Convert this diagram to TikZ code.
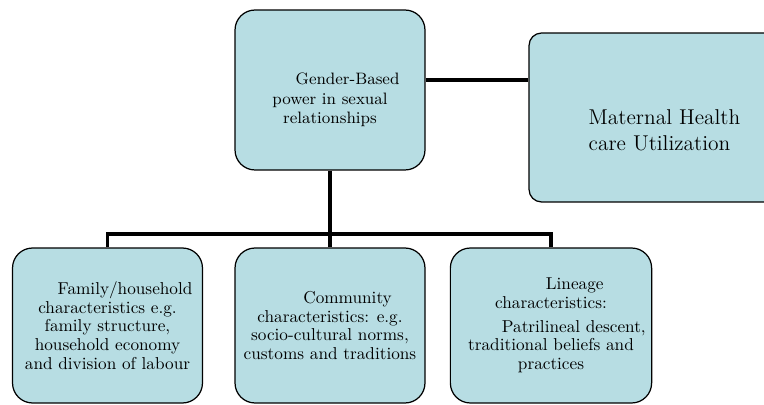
\documentclass[tikz,border=0pt]{standalone}
\definecolor{boxfill}{RGB}{183,221,227}

\begin{document}
\begin{tikzpicture}[x=0.02cm, y=-0.02cm,
        box/.style={draw=black, fill=boxfill, line width=0.7pt, rounded corners=0.4cm,
            minimum width=3.8cm, minimum height=3.1cm, align=center,
            font=\fontsize{9.8}{10.6}\selectfont},
        conn/.style={line width=2pt}]
        \useasboundingbox (0,0) rectangle (764,405);
        \clip (0,0) rectangle (764,405);

        \node[box, minimum height=3.2cm, font=\fontsize{9.4}{11.2}\selectfont] (gender) at (330,90)
            {\rule{0pt}{18pt}\hspace*{20pt}Gender-Based\\power in sexual\\relationships};
        \node[box, rounded corners=0.25cm, minimum width=5.42cm, minimum height=3.38cm, align=left,
            font=\fontsize{12.2}{15}\selectfont] (maternal) at (664.5,117.5)
            {\rule{0pt}{23pt}Maternal Health\\care Utilization};

        \node[box] (family) at (107.5,325.5)
            {\hspace*{20pt}Family/household\\characteristics e.g.\\family structure,\\household economy\\and division of labour};
        \node[box] (community) at (330,325.5)
            {\hspace*{20pt}Community\\characteristics: e.g.\\socio-cultural norms,\\customs and traditions};
        \node[box] (lineage) at (551,325.5)
            {\hspace*{27pt}Lineage\\characteristics:\hspace*{30pt}\\[3pt]\hspace*{26pt}Patrilineal descent,\\traditional beliefs and\\practices};

        \coordinate (bar) at (330,234);

        \draw[conn] ([yshift=0.2cm]gender.east) -- ([yshift=0.2cm]gender.east -| maternal.west);
        \draw[conn] (gender.south) -- (bar);
        \foreach \b in {family, community, lineage} {
            \draw[conn] (\b.north) |- (bar);
        }
\end{tikzpicture}
\end{document}
